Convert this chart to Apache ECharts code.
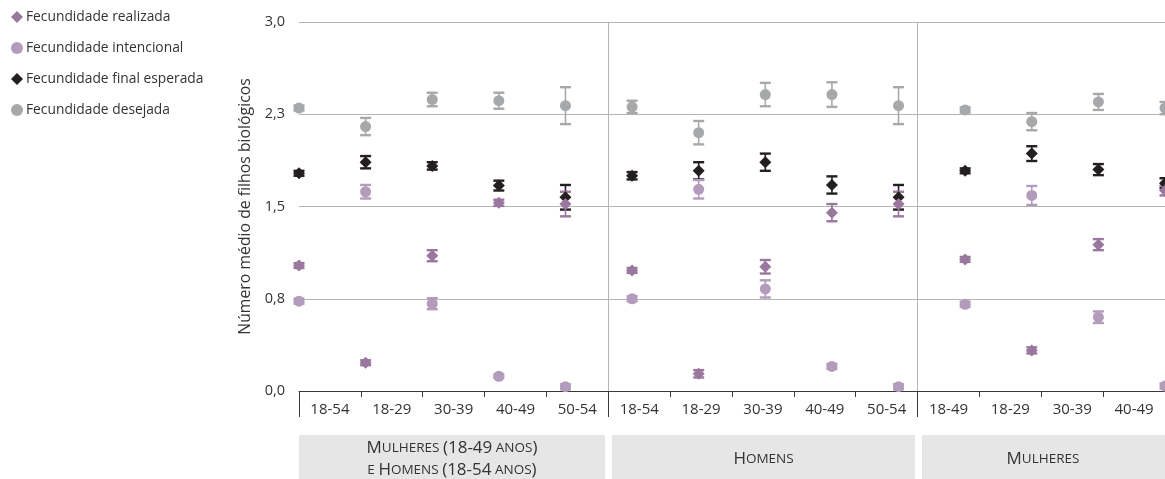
<!DOCTYPE html>
<html>
<head>
<meta charset="utf-8">
<script src="https://cdn.jsdelivr.net/npm/echarts@6/dist/echarts.min.js"></script>
<style>
html,body{margin:0;padding:0;background:#fff;}
#chart{width:1165px;height:479px;}
</style>
</head>
<body>
<div id="chart"></div>
<script>
// ---- data ----
const categories = ['18-54','18-29','30-39','40-49','50-54','18-54','18-29','30-39','40-49','50-54','18-49','18-29','30-39','40-49'];
const yTicks = [0, 0.75, 1.5, 2.25, 3.0];

const realizada      = [1.02, 0.23, 1.10, 1.53, 1.52, 0.98, 0.14, 1.01, 1.45, 1.52, 1.07, 0.33, 1.19, 1.63];
const realizadaErr   = [0.02, 0.02, 0.045, 0.025, 0.10, 0.02, 0.03, 0.055, 0.07, 0.10, 0.02, 0.025, 0.045, 0.04];
const intencional    = [0.73, 1.62, 0.71, 0.12, 0.035, 0.75, 1.64, 0.83, 0.20, 0.035, 0.705, 1.59, 0.60, 0.04];
const intencionalErr = [0.02, 0.055, 0.045, 0.015, 0.02, 0.02, 0.075, 0.07, 0.02, 0.02, 0.02, 0.077, 0.047, 0.02];
const finalEsperada  = [1.77, 1.86, 1.83, 1.67, 1.575, 1.75, 1.79, 1.86, 1.675, 1.575, 1.79, 1.93, 1.80, 1.69];
const finalErr       = [0.02, 0.05, 0.03, 0.04, 0.10, 0.03, 0.07, 0.07, 0.07, 0.10, 0.02, 0.06, 0.045, 0.04];
const desejada       = [2.30, 2.15, 2.37, 2.36, 2.32, 2.31, 2.10, 2.41, 2.41, 2.32, 2.285, 2.19, 2.35, 2.30];
const desejadaErr    = [0.02, 0.07, 0.055, 0.065, 0.15, 0.05, 0.095, 0.095, 0.10, 0.15, 0.02, 0.07, 0.065, 0.05];

const seriesNames = ['Fecundidade realizada','Fecundidade intencional','Fecundidade final esperada','Fecundidade desejada'];
const groupLabels = [['Mulheres (18-49 anos)','e Homens (18-54 anos)'], ['Homens'], ['Mulheres']];

// ---- styles ----
const FONT = '"Open Sans", "DejaVu Sans", sans-serif';
const colors = {
  realizada: '#9a779f',
  intencional: '#b39bbc',
  final: '#231f20',
  desejada: '#a7a8aa'
};

function pointData(vals){ return vals.map((v,i)=>[i, v]); }
function errData(vals, errs){ return vals.map((v,i)=>[i, v - errs[i], v + errs[i]]); }

function errSeries(vals, errs, color){
  return {
    type: 'custom',
    xAxisIndex: 1, yAxisIndex: 0,
    silent: true,
    data: errData(vals, errs),
    renderItem: function(params, api){
      const x = api.value(0), lo = api.value(1), hi = api.value(2);
      const t = api.coord([x, hi]), b = api.coord([x, lo]);
      const w = 5.5;
      return {type:'group', children:[
        {type:'line', shape:{x1:t[0], y1:t[1], x2:b[0], y2:b[1]}, style:{stroke:color, lineWidth:1.6}},
        {type:'line', shape:{x1:t[0]-w, y1:t[1], x2:t[0]+w, y2:t[1]}, style:{stroke:color, lineWidth:2.4}},
        {type:'line', shape:{x1:b[0]-w, y1:b[1], x2:b[0]+w, y2:b[1]}, style:{stroke:color, lineWidth:2.4}}
      ]};
    }
  };
}
function pointSeries(name, vals, symbol, size, color){
  return {
    name: name, type: 'scatter', xAxisIndex: 1, yAxisIndex: 0,
    symbol: symbol, symbolSize: size,
    itemStyle: {color: color, opacity: 1},
    data: pointData(vals)
  };
}

// small caps rich text helper
function smallCaps(str){
  let out = '';
  for (const ch of str){
    if (/[a-zà-ú]/.test(ch)) out += '{s|' + ch.toUpperCase() + '}';
    else if (ch === ' ') out += '{s| }';
    else out += '{c|' + ch + '}';
  }
  return out;
}
const scRich = {
  c: {fontSize: 17, fontFamily: FONT, color:'#333'},
  s: {fontSize: 13.5, fontFamily: FONT, color:'#333'}
};

const chart = echarts.init(document.getElementById('chart'), null, {renderer:'canvas'});

const gridLeft = 299, gridTop = 22, gridW = 868, gridH = 369;

const panels = [
  {x: 299, w: 306, lines: groupLabels[0]},
  {x: 612, w: 303, lines: groupLabels[1]},
  {x: 922, w: 250, lines: groupLabels[2], cx: 1043}
];
const graphics = [];
panels.forEach(p => {
  graphics.push({type:'rect', left: p.x, top: 435, shape:{width: p.w, height: 50}, style:{fill:'#e6e6e7'}, z: 0});
  const cx = p.cx || (p.x + p.w/2);
  if (p.lines.length === 2){
    p.lines.forEach((ln, k) => {
      graphics.push({type:'text', x: cx, y: 448 + k*22, style:{text: smallCaps(ln), rich: scRich, align:'center', verticalAlign:'middle', fill:'#333'}, z: 1});
    });
  } else {
    graphics.push({type:'text', x: cx, y: 459, style:{text: smallCaps(p.lines[0]), rich: scRich, align:'center', verticalAlign:'middle', fill:'#333'}, z: 1});
  }
});

const option = {
  backgroundColor: '#fff',
  animation: false,
  textStyle: {fontFamily: FONT},
  legend: {
    orient: 'vertical', left: 8, top: 5,
    itemWidth: 12, itemHeight: 12, itemGap: 17, padding: [5, 5, 5, 3],
    textStyle: {fontSize: 13.8, color: '#333', fontFamily: FONT, padding: [0,0,0,-2]},
    data: [
      {name: seriesNames[0], icon: 'diamond'},
      {name: seriesNames[1], icon: 'circle'},
      {name: seriesNames[2], icon: 'diamond'},
      {name: seriesNames[3], icon: 'circle'}
    ]
  },
  grid: {left: gridLeft, top: gridTop, width: gridW, height: gridH, containLabel: false},
  xAxis: [
    {
      type: 'category', data: categories, position: 'bottom', boundaryGap: true,
      axisLine: {show: true, lineStyle: {color: '#3a3a3a', width: 1}},
      axisTick: {show: true, length: 6, alignWithLabel: false, lineStyle: {color: '#3a3a3a'}},
      axisLabel: {show: true, margin: 11, fontSize: 15, color: '#333', fontFamily: FONT, interval: 0},
      splitLine: {show: false}
    },
    {
      type: 'value', min: 0, max: categories.length - 1, show: false, position: 'bottom'
    },
    {
      type: 'value', min: 0, max: categories.length, interval: 5, position: 'bottom',
      axisLine: {show: false},
      axisTick: {show: true, length: 26, lineStyle: {color: '#3a3a3a'}},
      axisLabel: {show: false},
      splitLine: {show: true, showMinLine: false, showMaxLine: false, lineStyle: {color: '#b5b5b5', width: 1}}
    }
  ],
  yAxis: [{
    type: 'value', min: yTicks[0], max: yTicks[yTicks.length-1], interval: yTicks[1] - yTicks[0],
    axisLine: {show: false}, axisTick: {show: false},
    axisLabel: {margin: 14, fontSize: 14.5, color: '#333', fontFamily: FONT,
      formatter: v => v.toFixed(1).replace('.', ',')},
    splitLine: {show: true, lineStyle: {color: '#b5b5b5', width: 1}},
    name: 'Número médio de filhos biológicos', nameLocation: 'middle', nameGap: 44,
    nameTextStyle: {fontSize: 15.8, color: '#333', fontFamily: FONT}
  }],
  graphic: graphics,
  series: [
    errSeries(desejada, desejadaErr, colors.desejada),
    pointSeries(seriesNames[3], desejada, 'circle', 11, colors.desejada),
    errSeries(finalEsperada, finalErr, colors.final),
    pointSeries(seriesNames[2], finalEsperada, 'diamond', 12, colors.final),
    errSeries(intencional, intencionalErr, colors.intencional),
    pointSeries(seriesNames[1], intencional, 'circle', 11, colors.intencional),
    errSeries(realizada, realizadaErr, colors.realizada),
    pointSeries(seriesNames[0], realizada, 'diamond', 12, colors.realizada)
  ]
};
chart.setOption(option);
</script>
</body>
</html>
